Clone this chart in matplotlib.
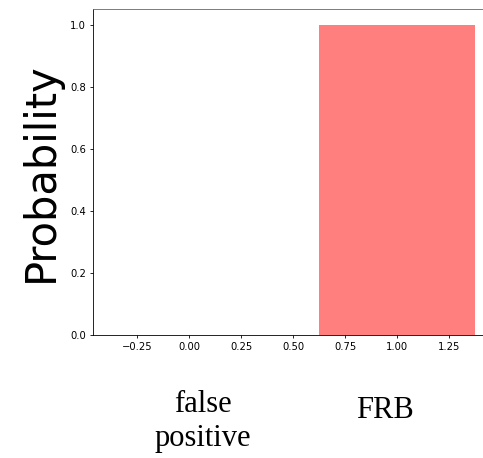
import matplotlib
matplotlib.use("Agg")
import matplotlib.pyplot as plt

categories = ["false\npositive", "FRB"]
positions = [0, 1]
probabilities = [0.0, 1.0]

fig = plt.figure(figsize=(4.83, 4.58), dpi=100)
ax = fig.add_axes([0.1925, 0.2686, 0.9, 0.7118])
ax.bar(positions, probabilities, width=0.75, color="red", alpha=0.5)
ax.set_xlim(-0.4625, 1.628)
ax.set_ylim(0, 1.05)
ax.set_xticks([-0.25, 0.0, 0.25, 0.5, 0.75, 1.0, 1.25])
ax.set_yticks([0.0, 0.2, 0.4, 0.6, 0.8, 1.0])
ax.tick_params(labelsize=7.2, width=0.6, length=2.5, pad=2.5)
for s in ax.spines.values():
    s.set_linewidth(0.6)
ax.spines["right"].set_visible(False)
ax.spines["top"].set_color("#666666")
ax.set_ylabel("Probability", fontsize=30, labelpad=6)

fig.text(203 / 483, 1 - 446 / 458, categories[0], ha="center", va="baseline",
         fontsize=22, family="Liberation Serif", linespacing=1.25)
fig.text(384.5 / 483, 1 - 418 / 458, categories[1], ha="center", va="baseline",
         fontsize=22, family="Liberation Serif")

fig.savefig("out.png", dpi=100)
